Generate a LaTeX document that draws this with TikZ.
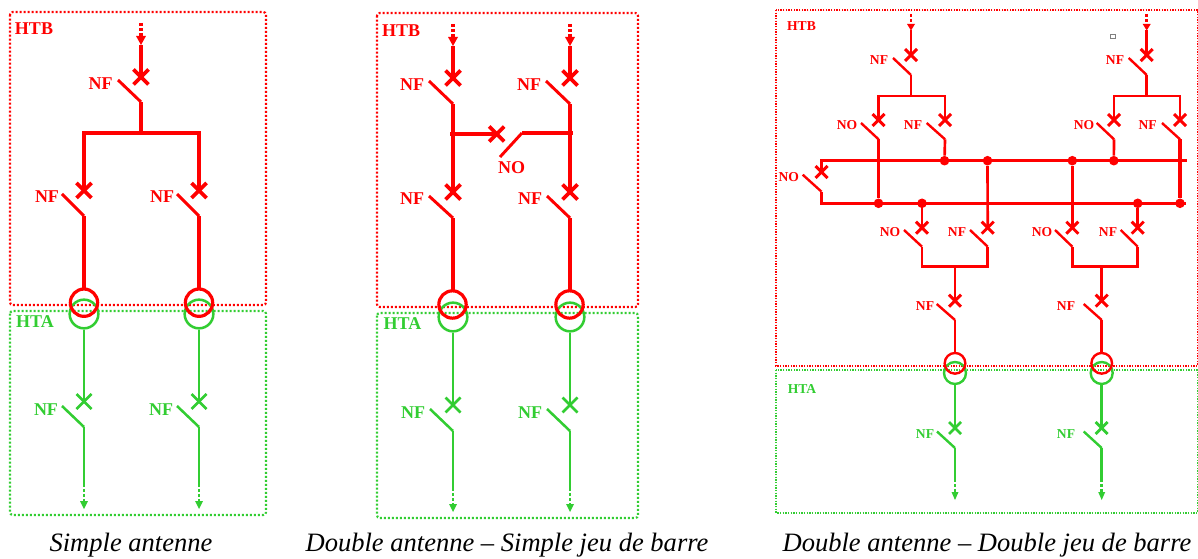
\documentclass[tikz,border=0pt]{standalone}
\usepackage{fontspec}
\setmainfont{Liberation Serif}
\definecolor{hg}{RGB}{50,205,50}
\definecolor{hr}{RGB}{255,0,0}
\colorlet{wirecol}{hr}
% cross: name, x, y
\newcommand{\xmk}[3]{%
  \coordinate (#1-c) at (#2,#3);
  \draw[crossmark] ([shift={(-\hs,-\hs)}]#1-c) -- ([shift={(\hs,\hs)}]#1-c);
  \draw[crossmark] ([shift={(-\hs,\hs)}]#1-c) -- ([shift={(\hs,-\hs)}]#1-c);
}
% switch: name, x, y of cross, y of blade foot, x and y of blade tip
\newcommand{\swit}[6]{%
  \xmk{#1}{#2}{#3}
  \coordinate (#1-b) at (#2,#4);
  \coordinate (#1-t) at (#5,#6);
  \draw[blade] (#1-b) -- (#1-t);
}
% feed: name, x, y dots start, y head start, y tip, half width
\newcommand{\feed}[6]{%
  \coordinate (#1-a) at (#2,#3);
  \coordinate (#1-h) at (#2,#4);
  \coordinate (#1-e) at (#2,#5);
  \draw[wire,dash pattern=on 2.2pt off 1.5pt] (#1-a) -- (#1-h);
  \fill[wirecol] ([xshift=-#6*0.75pt]#1-h) -- ([xshift=#6*0.75pt]#1-h) -- (#1-e) -- cycle;
}
\tikzset{
  x=0.75pt,y=-0.75pt,
  box/.style={line width=1.6pt,rounded corners=2pt,dash pattern=on 1.5pt off 1.5pt},
  lab/.style={inner sep=0pt,font=\bfseries\fontsize{13.5pt}{14pt}\selectfont},
  captxt/.style={inner sep=0pt,font=\itshape\fontsize{19.9pt}{22pt}\selectfont},
  dotj/.style={circle,fill=hr,inner sep=0pt,minimum size=7.2pt},
}
\begin{document}
\begin{tikzpicture}
\useasboundingbox (0,0) rectangle (1198,559);
%================ panel 1
\draw[box,draw=hr] (10,12) rectangle (266,305);
\draw[box,draw=hg] (10,311) rectangle (266,515);
\node[lab,text=hr] (a-htb) at (34,29) {HTB};
\node[lab,text=hg] (a-hta) at (35,322) {HTA};
\begin{scope}[wire/.style={draw=hr,line width=2.4pt},blade/.style={draw=hr,line width=2.2pt},crossmark/.style={draw=hr,line width=2.7pt}]
\def\hs{7.5}
\feed{af}{141}{23}{36}{45}{5}
\swit{a1}{141}{77}{102}{118}{80}
\swit{a2}{84}{190.5}{216}{62}{194}
\swit{a3}{199}{190.5}{216}{177}{194}
\draw[wire] (af-e) -- (a1-c);
\coordinate (abus) at (141,133);
\draw[wire] (a1-b) -- (abus);
\draw[wire,line width=3pt] (a2-c) |- (abus);
\draw[wire,line width=3pt] (a3-c) |- (abus);
\draw[wire,line width=3pt] (a2-b) -- (84,289);
\draw[wire,line width=3pt] (a3-b) -- (199,289);
\end{scope}
\node[lab,text=hr] (a-l1) at (100.5,84) {NF};
\node[lab,text=hr] (a-l2) at (47,197) {NF};
\node[lab,text=hr] (a-l3) at (162,197) {NF};
\begin{scope}[wire/.style={draw=hg,line width=2.1pt},blade/.style={draw=hg,line width=1.9pt},crossmark/.style={draw=hg,line width=2.1pt}]
\def\hs{7.5}
\colorlet{wirecol}{hg}
\node[draw=hg,circle,line width=1.9pt,minimum size=21.5pt,inner sep=0pt] (ag1) at (84,314) {};
\node[draw=hg,circle,line width=1.9pt,minimum size=21.5pt,inner sep=0pt] (ag2) at (199,314) {};
\swit{a4}{84}{401.5}{427}{62}{406}
\swit{a5}{199}{401.5}{427}{177}{406}
\draw[wire] (ag1.south) -- (a4-c);
\draw[wire] (ag2.south) -- (a5-c);
\feed{ad1}{84}{484}{501}{509}{4}
\feed{ad2}{199}{484}{501}{509}{4}
\draw[wire] (a4-b) -- (ad1-a);
\draw[wire] (a5-b) -- (ad2-a);
\end{scope}
\node[draw=hr,circle,line width=2.4pt,minimum size=20.5pt,inner sep=0pt] (ac1) at (84,302.7) {};
\node[draw=hr,circle,line width=2.4pt,minimum size=20.5pt,inner sep=0pt] (ac2) at (199,302.7) {};
\node[lab,text=hg] (a-l4) at (46,410) {NF};
\node[lab,text=hg] (a-l5) at (161,410) {NF};
%================ panel 2
\draw[box,draw=hr] (377,13) rectangle (638,307);
\draw[box,draw=hg] (377,313) rectangle (638,518);
\node[lab,text=hr] (b-htb) at (401,31) {HTB};
\node[lab,text=hg] (b-hta) at (402.5,324) {HTA};
\begin{scope}[wire/.style={draw=hr,line width=2.4pt},blade/.style={draw=hr,line width=2.2pt},crossmark/.style={draw=hr,line width=2.7pt}]
\def\hs{7.5}
\feed{bf1}{453}{24}{37}{46}{5}
\feed{bf2}{570}{24}{37}{46}{5}
\swit{b1}{453}{78}{104}{429}{81}
\swit{b2}{570}{78}{104}{546}{81}
\swit{b3}{453}{192}{218}{429}{196}
\swit{b4}{570}{192}{218}{547}{196}
\draw[wire,line width=3pt] (bf1-e) -- (b1-c);
\draw[wire,line width=3pt] (bf2-e) -- (b2-c);
\draw[wire] (b1-b) -- (b3-c);
\draw[wire,line width=3pt] (b2-b) -- (b4-c);
\draw[wire,line width=3pt] (b3-b) -- (453,291);
\draw[wire,line width=3pt] (b4-b) -- (570,291);
\xmk{b5}{496.7}{134}
\coordinate (b5-t) at (500,157);
\coordinate (b5-f) at (522,133);
\coordinate (bjl) at (450,134);
\coordinate (bjr) at (572.5,133);
\draw[wire,line width=3pt] (bjl) -- (b5-c);
\draw[blade] (b5-t) -- (b5-f);
\draw[wire,line width=3pt] (b5-f) -- (bjr);
\end{scope}
\node[lab,text=hr] at (412,85) {NF};
\node[lab,text=hr] at (529,85) {NF};
\node[lab,text=hr] at (412,199) {NF};
\node[lab,text=hr] at (530,199) {NF};
\node[lab,text=hr] at (511.5,168) {NO};
\begin{scope}[wire/.style={draw=hg,line width=2.1pt},blade/.style={draw=hg,line width=1.9pt},crossmark/.style={draw=hg,line width=2.1pt}]
\def\hs{7.5}
\colorlet{wirecol}{hg}
\node[draw=hg,circle,line width=1.9pt,minimum size=21.5pt,inner sep=0pt] (bg1) at (453,317) {};
\node[draw=hg,circle,line width=1.9pt,minimum size=21.5pt,inner sep=0pt] (bg2) at (570,317) {};
\swit{b6}{453}{405}{431}{430}{409}
\swit{b7}{570}{405}{431}{547}{409}
\draw[wire] (bg1.south) -- (b6-c);
\draw[wire] (bg2.south) -- (b7-c);
\feed{bd1}{453}{488}{504}{512}{4}
\feed{bd2}{570}{488}{504}{512}{4}
\draw[wire] (b6-b) -- (bd1-a);
\draw[wire] (b7-b) -- (bd2-a);
\end{scope}
\node[draw=hr,circle,line width=2.4pt,minimum size=20.5pt,inner sep=0pt] (bc1) at (452.5,304.5) {};
\node[draw=hr,circle,line width=2.4pt,minimum size=20.5pt,inner sep=0pt] (bc2) at (569.5,304.5) {};
\node[lab,text=hg] at (413,413) {NF};
\node[lab,text=hg] at (530,413) {NF};
%================ panel 3
\tikzset{box/.append style={line width=1.2pt,rounded corners=0pt,dash pattern=on 1pt off 1pt},
  lab/.append style={font=\bfseries\fontsize{10.2pt}{11pt}\selectfont}}
\draw[box,draw=hr] (776,10) rectangle (1197.5,366);
\draw[box,draw=hg] (776,370) rectangle (1197.5,512.7);
\node[lab,text=hr] (c-htb) at (801.5,26) {HTB};
\node[lab,text=hg] (c-hta) at (802,389) {HTA};
\node[draw=gray,line width=0.6pt,inner sep=0pt,minimum size=3.6pt] (c-sq) at (1113,36.5) {};
\begin{scope}[wire/.style={draw=hr,line width=2pt},blade/.style={draw=hr,line width=1.8pt},crossmark/.style={draw=hr,line width=2.2pt}]
\def\hs{6}
\feed{cf1}{911}{14}{24}{30.5}{4}
\feed{cf2}{1146.7}{14}{24}{30.5}{4}
\swit{c1}{911}{55}{75}{893}{58}
\swit{c2}{1146.7}{55}{75}{1128.7}{58}
\draw[wire] (cf1-e) -- (c1-c);
\draw[wire,line width=2.3pt] (cf2-e) -- (c2-c);
\swit{c3}{878.5}{120}{139.3}{861}{123}
\swit{c4}{945}{120}{139.3}{926.7}{123}
\swit{c5}{1114}{120}{139.3}{1096.7}{123}
\swit{c6}{1180}{120}{139.3}{1162}{123}
\coordinate (cb1) at (911,96);
\coordinate (cb2) at (1146.7,96);
\draw[wire] (c1-b) -- (cb1);
\draw[wire,line width=2.3pt] (c2-b) -- (cb2);
\draw[wire] (c3-c) |- (cb1);
\draw[wire] (c4-c) |- (cb1);
\draw[wire] (c5-c) |- (cb2);
\draw[wire] (c6-c) |- (cb2);
% bus bars
\coordinate (bus1l) at (820,160.7);
\coordinate (bus1r) at (1187,160.7);
\coordinate (bus2l) at (820,203.3);
\coordinate (bus2r) at (1186,203.3);
\draw[wire,line width=2.3pt] (bus1l) -- (bus1r);
\draw[wire,line width=2.3pt] (bus2l) -- (bus2r);
\foreach \n/\x in {d1/944.5,d2/987.5,d3/1072.3,d4/1113.8}{\node[dotj] (\n) at (\x,160.7) {};}
\foreach \n/\x in {e1/878.5,e2/922,e3/1137.7,e4/1180}{\node[dotj] (\n) at (\x,203.3) {};}
% coupler
\swit{c7}{821.5}{172}{191.7}{802.7}{174.7}
\coordinate (c7-u) at (821.5,160.7);
\coordinate (c7-d) at (821.5,203.3);
\draw[wire] (c7-c) -- (c7-u);
\draw[wire] (c7-b) -- (c7-d);
\draw[wire] (c3-b) -- (e1);
\draw[wire] (c4-b) -- (d1);
\draw[wire] (c5-b) -- (d4);
\draw[wire,line width=2.3pt] (c6-b) -- (e4);
\swit{c8}{922}{227.7}{246.7}{904}{230}
\swit{c9}{987.7}{227.7}{246.7}{970}{230}
\swit{c10}{1072.3}{227.7}{246.7}{1055}{230}
\swit{c11}{1137.7}{227.7}{246.7}{1120.7}{230}
\draw[wire] (e2) -- (c8-c);
\draw[wire] (d2) -- (c9-c);
\draw[wire] (d3) -- (c10-c);
\draw[wire] (e3) -- (c11-c);
\coordinate (cb3) at (955,266.7);
\coordinate (cb4) at (1101.7,266.7);
\draw[wire] (c8-b) |- (cb3);
\draw[wire] (c9-b) |- (cb3);
\draw[wire,line width=2.3pt] (c10-b) |- (cb4);
\draw[wire,line width=2.3pt] (c11-b) |- (cb4);
\swit{c12}{955}{300.7}{320}{936.7}{304}
\swit{c13}{1101.7}{300.7}{320}{1083.7}{304}
\draw[wire] (cb3) -- (c12-c);
\draw[wire,line width=2.3pt] (cb4) -- (c13-c);
\end{scope}
\foreach \x/\y/\t in {879/60/NF,1115/60/NF,847/125/NO,913/125/NF,1084/125/NO,1147.7/125/NF,788.7/177/NO,890/232/NO,957/232/NF,1042/232/NO,1108/232/NF,925/306/NF,1066/306/NF}{\node[lab,text=hr] at (\x,\y) {\t};}
\begin{scope}[wire/.style={draw=hg,line width=2.2pt},blade/.style={draw=hg,line width=1.8pt},crossmark/.style={draw=hg,line width=2.1pt}]
\def\hs{6}
\colorlet{wirecol}{hg}
\node[draw=hg,circle,line width=1.8pt,minimum size=16.5pt,inner sep=0pt] (cg1) at (955,373) {};
\node[draw=hg,circle,line width=1.8pt,minimum size=16.5pt,inner sep=0pt] (cg2) at (1101.7,373) {};
\swit{c14}{955}{428}{448}{937}{431.5}
\swit{c15}{1101.7}{428}{448}{1083.7}{431.5}
\draw[wire] (cg1.south) -- (c14-c);
\draw[wire] (cg2.south) -- (c15-c);
\feed{cd1}{955}{479}{492}{500}{3.5}
\feed{cd2}{1101.7}{479}{492}{500}{3.5}
\draw[wire] (c14-b) -- (cd1-a);
\draw[wire] (c15-b) -- (cd2-a);
\end{scope}
\node[draw=hr,circle,line width=1.8pt,minimum size=15.5pt,inner sep=0pt] (cc1) at (955,363.3) {};
\node[draw=hr,circle,line width=1.8pt,minimum size=15.5pt,inner sep=0pt] (cc2) at (1101.7,363.3) {};
\draw[draw=hr,line width=2pt] (c12-b) -- (cc1.north);
\draw[draw=hr,line width=2pt] (c13-b) -- (cc2.north);
\node[lab,text=hg] at (925,434) {NF};
\node[lab,text=hg] at (1066,434) {NF};
%================ captions
\node[captxt] (cap1) at (131,545) {Simple antenne};
\node[captxt] (cap2) at (507,545) {Double antenne – Simple jeu de barre};
\node[captxt] (cap3) at (987,545) {Double antenne – Double jeu de barre};
\end{tikzpicture}
\end{document}
